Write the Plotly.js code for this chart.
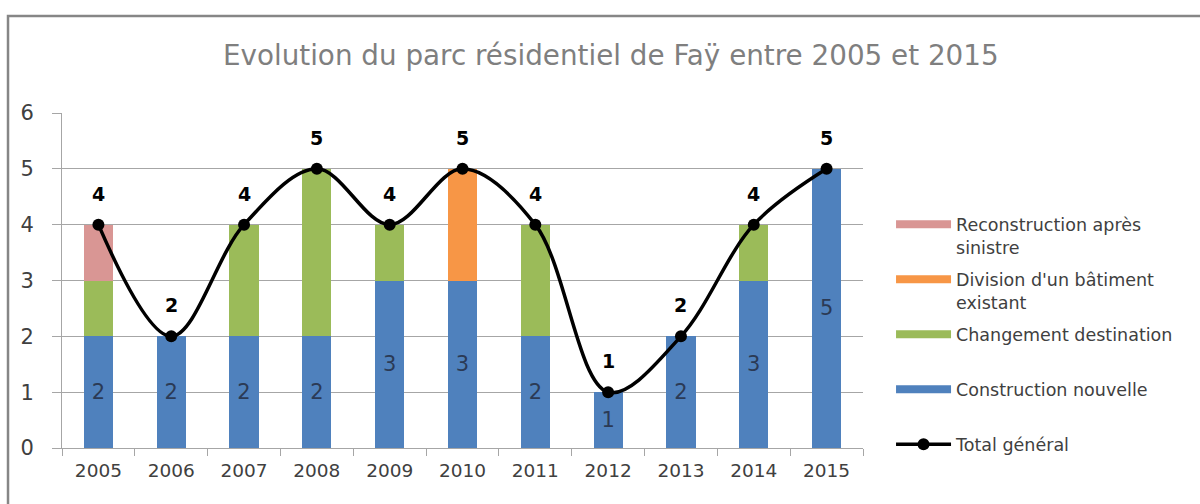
<!DOCTYPE html>
<html>
<head>
<meta charset="utf-8">
<script src="https://cdn.plot.ly/plotly-3.0.1.min.js"></script>
<style>html,body{margin:0;padding:0;background:#fff;}#chart{width:1200px;height:504px;}</style>
</head>
<body>
<div id="chart"></div>
<script>
var years = ['2005','2006','2007','2008','2009','2010','2011','2012','2013','2014','2015'];
var constructionNouvelle = [2,2,2,2,3,3,2,1,2,3,5];
var changementDestination = [1,0,2,3,1,0,2,0,0,1,0];
var divisionBatiment = [0,0,0,0,0,2,0,0,0,0,0];
var reconstructionSinistre = [1,0,0,0,0,0,0,0,0,0,0];
var totalGeneral = [4,2,4,5,4,5,4,1,2,4,5];

var names = {
  rec: 'Reconstruction après<br>sinistre',
  div: "Division d'un bâtiment<br>existant",
  chg: 'Changement destination<br>&nbsp;',
  con: 'Construction nouvelle<br>&nbsp;',
  tot: 'Total général'
};
var colors = {con:'#4F81BD', chg:'#9BBB59', div:'#F79646', rec:'#D99694'};
var FONT = '"DejaVu Sans", sans-serif';

function bar(y, color, extra) {
  var t = {type:'bar', x:years, y:y, marker:{color:color}, showlegend:false, hoverinfo:'y'};
  for (var k in extra) t[k] = extra[k];
  return t;
}
function legendItem(name, color, rank, group) {
  return {type:'scatter', mode:'lines', x:[years[0]], y:[null], name:name, legendgroup:group,
    line:{color:color, width:8}, legendrank:rank, showlegend:true, hoverinfo:'skip'};
}

var traces = [
  bar(constructionNouvelle, colors.con, {
    text: constructionNouvelle.map(String), textposition:'inside', insidetextanchor:'middle',
    textfont:{family:FONT, size:21, color:'#2b3a55'}, constraintext:'none', textangle:0
  }),
  bar(changementDestination, colors.chg, {}),
  bar(divisionBatiment, colors.div, {}),
  bar(reconstructionSinistre, colors.rec, {}),
  legendItem(names.rec, colors.rec, 1, 'g1'),
  legendItem(names.div, colors.div, 2, 'g2'),
  legendItem(names.chg, colors.chg, 3, 'g3'),
  legendItem(names.con, colors.con, 4, 'g4'),
  {type:'scatter', mode:'lines+markers', x:years, y:totalGeneral, name:names.tot, legendgroup:'g5',
   line:{color:'#000', width:3.5, shape:'spline', smoothing:1},
   marker:{color:'#000', size:12}, legendrank:5}
];

var annotations = years.map(function(yr, i){
  return {x:i, y:totalGeneral[i], xref:'x', yref:'y', text:'<b>'+totalGeneral[i]+'</b>',
    showarrow:false, yshift:31, font:{family:FONT, size:19, color:'#000'}};
});

var layout = {
  width:1200, height:504,
  margin:{l:62, r:337, t:113, b:56, pad:0, autoexpand:false},
  paper_bgcolor:'#fff', plot_bgcolor:'#fff',
  font:{family:FONT, color:'#404040'},
  title:{text:'Evolution du parc résidentiel de Faÿ entre 2005 et 2015',
    xref:'container', x:0.509, xanchor:'center', yref:'container', y:0.89, yanchor:'middle',
    font:{family:FONT, size:27.8, color:'#7f7f7f'}},
  barmode:'stack', bargap:0.6,
  xaxis:{type:'category', range:[-0.5, 10.5], autorange:false, showline:true, linecolor:'#a6a6a6', linewidth:1,
    ticks:'outside', tickson:'boundaries', ticklen:7, tickcolor:'#a6a6a6', ticklabelstandoff:6,
    showgrid:false, tickfont:{family:FONT, size:18.5, color:'#404040'}, fixedrange:true},
  yaxis:{range:[0,6], autorange:false, dtick:1, showgrid:true, gridcolor:'#a6a6a6', gridwidth:1,
    showline:true, linecolor:'#a6a6a6', ticks:'outside', ticklen:9, tickcolor:'#a6a6a6',
    ticklabelstandoff:14, zeroline:false,
    tickfont:{family:FONT, size:21, color:'#404040'}, fixedrange:true},
  legend:{x:1.035, xanchor:'left', y:0.721, yanchor:'top', valign:'top',
    traceorder:'grouped', tracegroupgap:6.5, itemwidth:55,
    font:{family:FONT, size:17.5, color:'#404040'}, bgcolor:'rgba(0,0,0,0)'},
  annotations:annotations,
  shapes:[{type:'rect', xref:'paper', yref:'paper', x0:-0.0674, x1:1.6, y0:-0.5, y1:1.2896,
    line:{color:'#868686', width:2.5}, fillcolor:'rgba(0,0,0,0)', layer:'above'}]
};

Plotly.newPlot('chart', traces, layout, {staticPlot:true, displayModeBar:false});
</script>
</body>
</html>
